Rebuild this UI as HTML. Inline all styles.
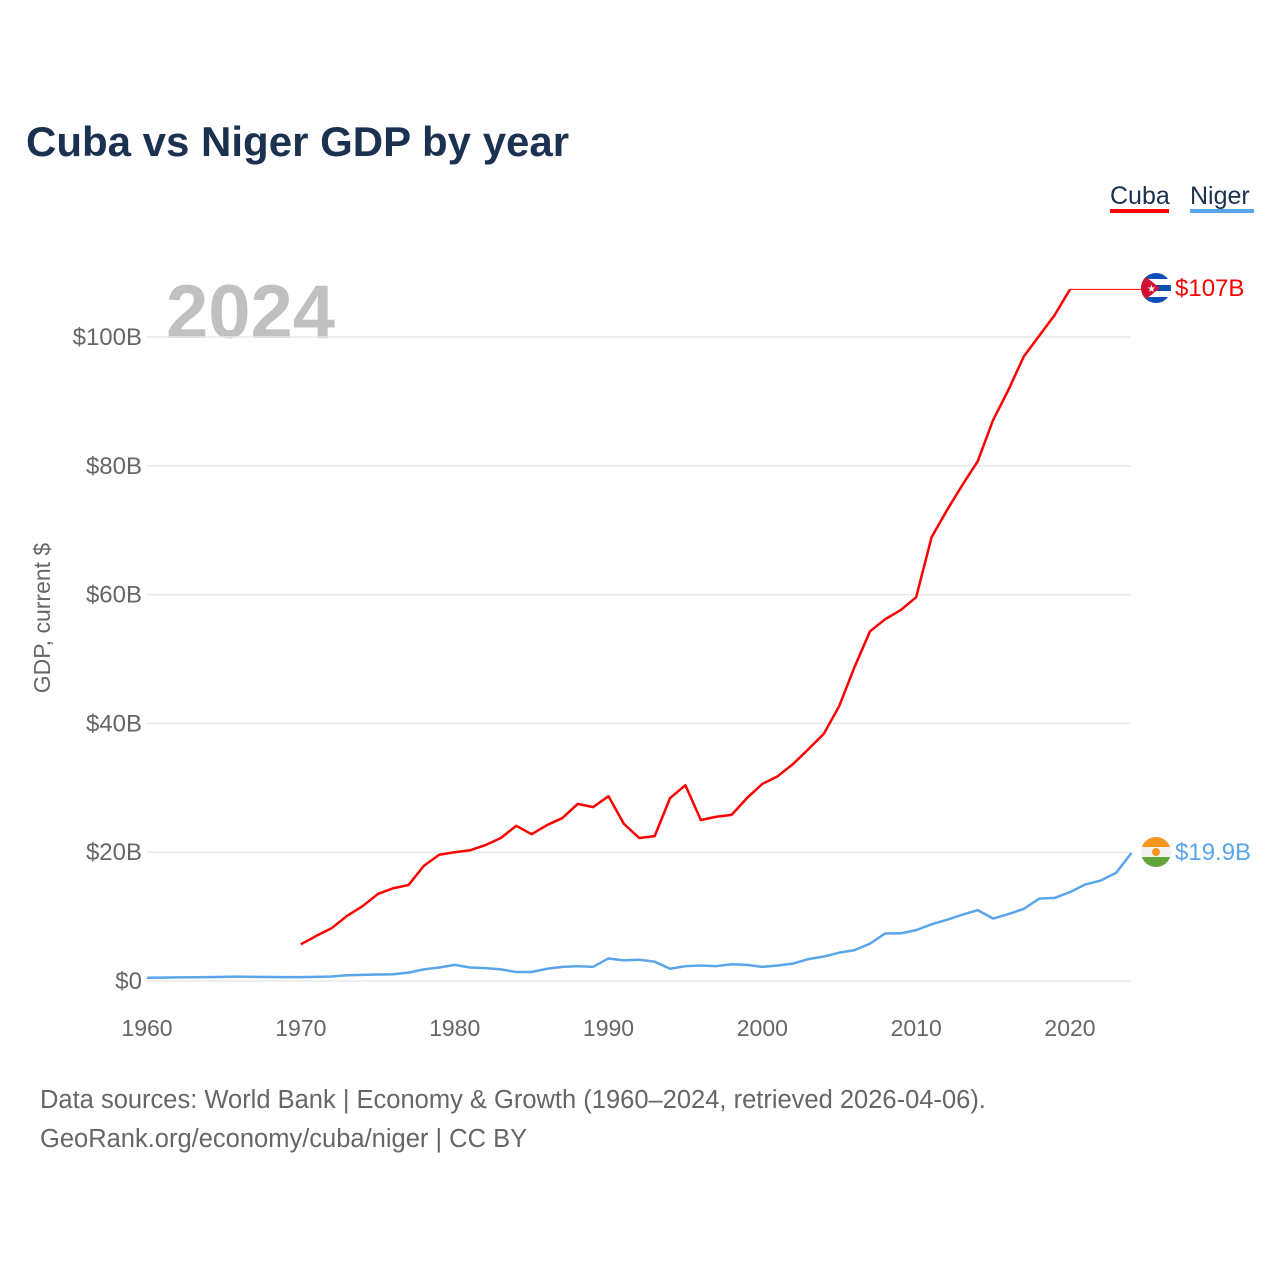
<!DOCTYPE html>
<html><head><meta charset="utf-8"><style>
body{margin:0;background:#fff;font-family:"Liberation Sans",sans-serif}
svg text{font-family:"Liberation Sans",sans-serif}
</style></head><body>
<svg id="chart" width="1280" height="1280" viewBox="0 0 1280 1280">
<text x="26" y="156" font-size="42" font-weight="bold" fill="#1a3150">Cuba vs Niger GDP by year</text>
<g><text x="1110" y="204" font-size="25" fill="#1a3150">Cuba</text><rect x="1110" y="209" width="59" height="4" fill="#ff0000"/></g>
<g><text x="1190" y="204" font-size="25" fill="#1a3150">Niger</text><rect x="1190" y="209" width="64" height="4" fill="#5aa5ea"/></g>
<text x="166" y="338" font-size="76" font-weight="bold" fill="#c0c0c0">2024</text>
<text transform="translate(50,618) rotate(-90)" text-anchor="middle" font-size="23" fill="#666">GDP, current $</text>
<g id="grid"></g><g id="yticks"></g><g id="xticks"></g><g id="series"></g>
<g>
<clipPath id="c1"><circle cx="1156" cy="288" r="15"/></clipPath>
<g clip-path="url(#c1)"><rect x="1141" y="273" width="30" height="30" fill="#0a4fb5"/><rect x="1141" y="279" width="30" height="6" fill="#fff"/><rect x="1141" y="291" width="30" height="6" fill="#fff"/><polygon points="1141,273 1160,288 1141,303" fill="#d21034"/></g>
<text x="1147" y="292" font-size="10" fill="#fff">★</text></g>
<g>
<clipPath id="c2"><circle cx="1156" cy="852" r="15"/></clipPath>
<g clip-path="url(#c2)"><rect x="1141" y="837" width="30" height="10" fill="#f7961d"/><rect x="1141" y="847" width="30" height="10" fill="#f3f3f3"/><rect x="1141" y="857" width="30" height="10" fill="#63a53a"/></g>
<circle cx="1156" cy="852" r="4" fill="#f7961d"/></g>
<text x="1175" y="296" font-size="24" fill="#ff0000">$107B</text>
<text x="1175" y="860" font-size="24" fill="#5aa5ea">$19.9B</text>
<text x="40" y="1108" font-size="25.5" fill="#666">Data sources: World Bank | Economy &amp; Growth (1960–2024, retrieved 2026-04-06).</text>
<text x="40" y="1147" font-size="25.5" fill="#666">GeoRank.org/economy/cuba/niger | CC BY</text>
</svg>
<script>
const yTicks=[0,20,40,60,80,100];
const yTickLabels=["$0","$20B","$40B","$60B","$80B","$100B"];
const xTicks=[1960,1970,1980,1990,2000,2010,2020];
const cubaYears=[1970,1971,1972,1973,1974,1975,1976,1977,1978,1979,1980,1981,1982,1983,1984,1985,1986,1987,1988,1989,1990,1991,1992,1993,1994,1995,1996,1997,1998,1999,2000,2001,2002,2003,2004,2005,2006,2007,2008,2009,2010,2011,2012,2013,2014,2015,2016,2017,2018,2019,2020];
const cubaValues=[5.7,7.0,8.2,10.1,11.6,13.5,14.4,14.9,17.9,19.6,20.0,20.3,21.1,22.2,24.1,22.8,24.2,25.3,27.5,27.0,28.7,24.4,22.2,22.5,28.4,30.4,25.0,25.5,25.8,28.4,30.6,31.8,33.7,36.0,38.4,42.7,48.8,54.3,56.2,57.6,59.6,68.9,73.1,77.0,80.7,87.1,91.8,97.0,100.2,103.4,107.4];
const nigerYears=[];for(let y=1960;y<=2024;y++)nigerYears.push(y);
const nigerValues=[0.5,0.53,0.56,0.58,0.6,0.65,0.67,0.64,0.63,0.6,0.6,0.65,0.7,0.9,0.95,1.0,1.05,1.3,1.8,2.1,2.5,2.1,2.0,1.8,1.4,1.4,1.9,2.2,2.3,2.2,3.5,3.2,3.3,3.0,1.9,2.3,2.4,2.3,2.6,2.5,2.2,2.4,2.7,3.4,3.8,4.4,4.8,5.8,7.4,7.4,7.9,8.8,9.5,10.3,11.0,9.7,10.4,11.2,12.8,12.9,13.8,15.0,15.6,16.8,19.9];
const NS="http://www.w3.org/2000/svg";
const X=y=>147+(y-1960)*(1070-147)/60;
const Y=v=>981-v*6.44;
function mk(t,a,p){const e=document.createElementNS(NS,t);for(const k in a)e.setAttribute(k,a[k]);document.getElementById(p).appendChild(e);return e;}
yTicks.forEach((v,i)=>{
 const l=mk('line',{x1:147,x2:1131,y1:Y(v),y2:Y(v),stroke:'#e8e8e8','stroke-width':1.5},'grid');
 
 
 const t=mk('text',{x:142,y:Y(v)+8,'text-anchor':'end','font-size':24,fill:'#666'},'yticks');
 t.textContent=yTickLabels[i];
 
 
});
xTicks.forEach(v=>{
 const t=mk('text',{x:X(v),y:1036,'text-anchor':'middle','font-size':23,fill:'#666'},'xticks');
 t.textContent=v;
 
 
});
const last=cubaValues[cubaValues.length-1];
const ext=mk('line',{x1:X(cubaYears[cubaYears.length-1]),x2:1141,y1:Y(last),y2:Y(last),stroke:'#ff0000','stroke-width':1},'series');


const cp=mk('polyline',{points:cubaYears.map((y,i)=>X(y)+','+Y(cubaValues[i])).join(' '),fill:'none',stroke:'#ff0000','stroke-width':2.5,'stroke-linejoin':'round'},'series');


const np=mk('polyline',{points:nigerYears.map((y,i)=>X(y)+','+Y(nigerValues[i])).join(' '),fill:'none',stroke:'#5aa5ea','stroke-width':2.5,'stroke-linejoin':'round'},'series');


</script>
</body></html>
